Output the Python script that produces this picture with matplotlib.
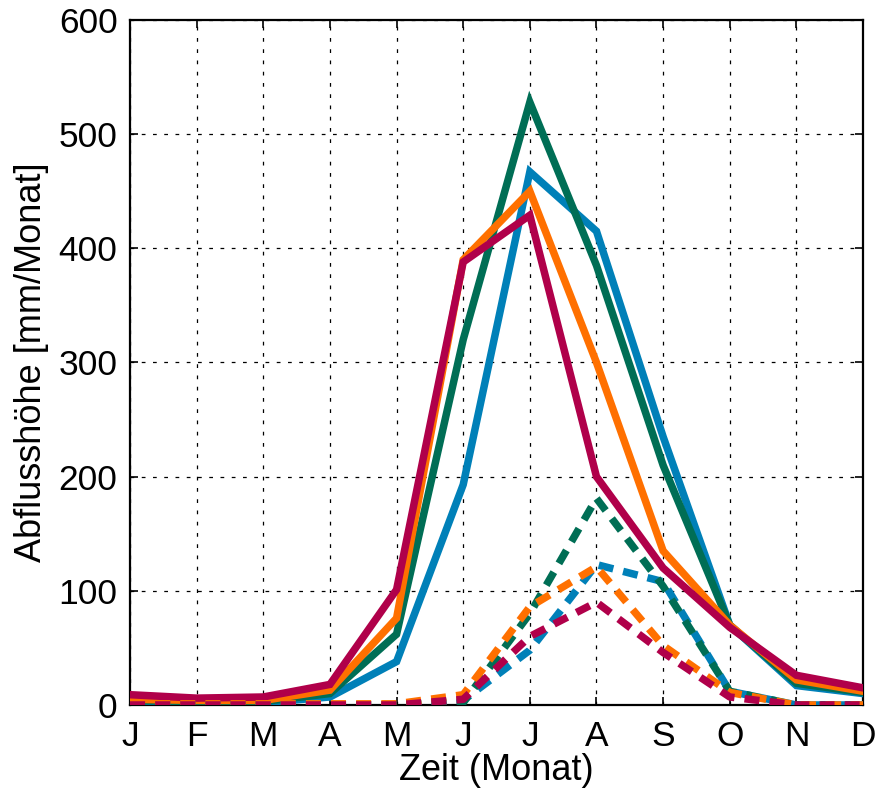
import numpy as np
import matplotlib
matplotlib.use("Agg")
import matplotlib.pyplot as plt

plt.rcParams['font.family'] = ['Liberation Sans', 'DejaVu Sans']

months = ['J', 'F', 'M', 'A', 'M', 'J', 'J', 'A', 'S', 'O', 'N', 'D']

# total runoff (solid lines)
total_blue = [3, 2, 2, 7, 38, 193, 467, 415, 235, 70, 17, 10]
total_green = [4, 3, 3, 10, 62, 320, 528, 385, 210, 70, 19, 11]
total_orange = [5, 4, 4, 13, 76, 390, 450, 300, 135, 70, 22, 12]
total_red = [9, 6, 7, 18, 101, 388, 429, 200, 120, 68, 26, 15]

# glacier component (dashed lines)
glac_blue = [0, 0, 0, 0, 0, 4, 48, 123, 108, 12, 0, 0]
glac_green = [0, 0, 0, 0, 0, 2, 80, 181, 104, 12, 0, 0]
glac_orange = [1, 1, 1, 1, 1, 9, 86, 121, 52, 11, 0, 0]
glac_red = [0, 0, 0, 0, 0, 5, 60, 90, 46, 7, 0, 0]

colors = ['#0080b8', '#006e55', '#ff7000', '#b0004a']

x = np.arange(1, 13)

fig = plt.figure(figsize=(8.75, 7.93), dpi=100)
ax = fig.add_axes([0.1486, 0.111, 0.8377, 0.8638])

for y, c in zip([total_blue, total_green, total_orange, total_red], colors):
    ax.plot(x, y, color=c, lw=5.4, solid_joinstyle='miter', zorder=3)
for y, c in zip([glac_blue, glac_green, glac_orange, glac_red], colors):
    ax.plot(x, y, color=c, lw=5.4, linestyle=(0, (2.0, 1.35)), zorder=4)

ax.set_xlim(1, 12)
ax.set_ylim(0, 600)
ax.set_xticks(x)
ax.set_xticklabels(months)
ax.set_yticks(np.arange(0, 601, 100))

ax.grid(True, color='black', linestyle=(0, (3, 6)), linewidth=0.9)
ax.tick_params(direction='in', length=6, width=1.2, top=True, right=True,
               labelsize=25.5)
ax.tick_params(axis='y', pad=9)
ax.tick_params(axis='x', pad=11)
for s in ax.spines.values():
    s.set_linewidth(1.6)

ax.set_xlabel('Zeit (Monat)', fontsize=26, labelpad=0)
ax.set_ylabel('Abflusshöhe [mm/Monat]', fontsize=26, labelpad=7)

fig.savefig('out.png', dpi=100)
